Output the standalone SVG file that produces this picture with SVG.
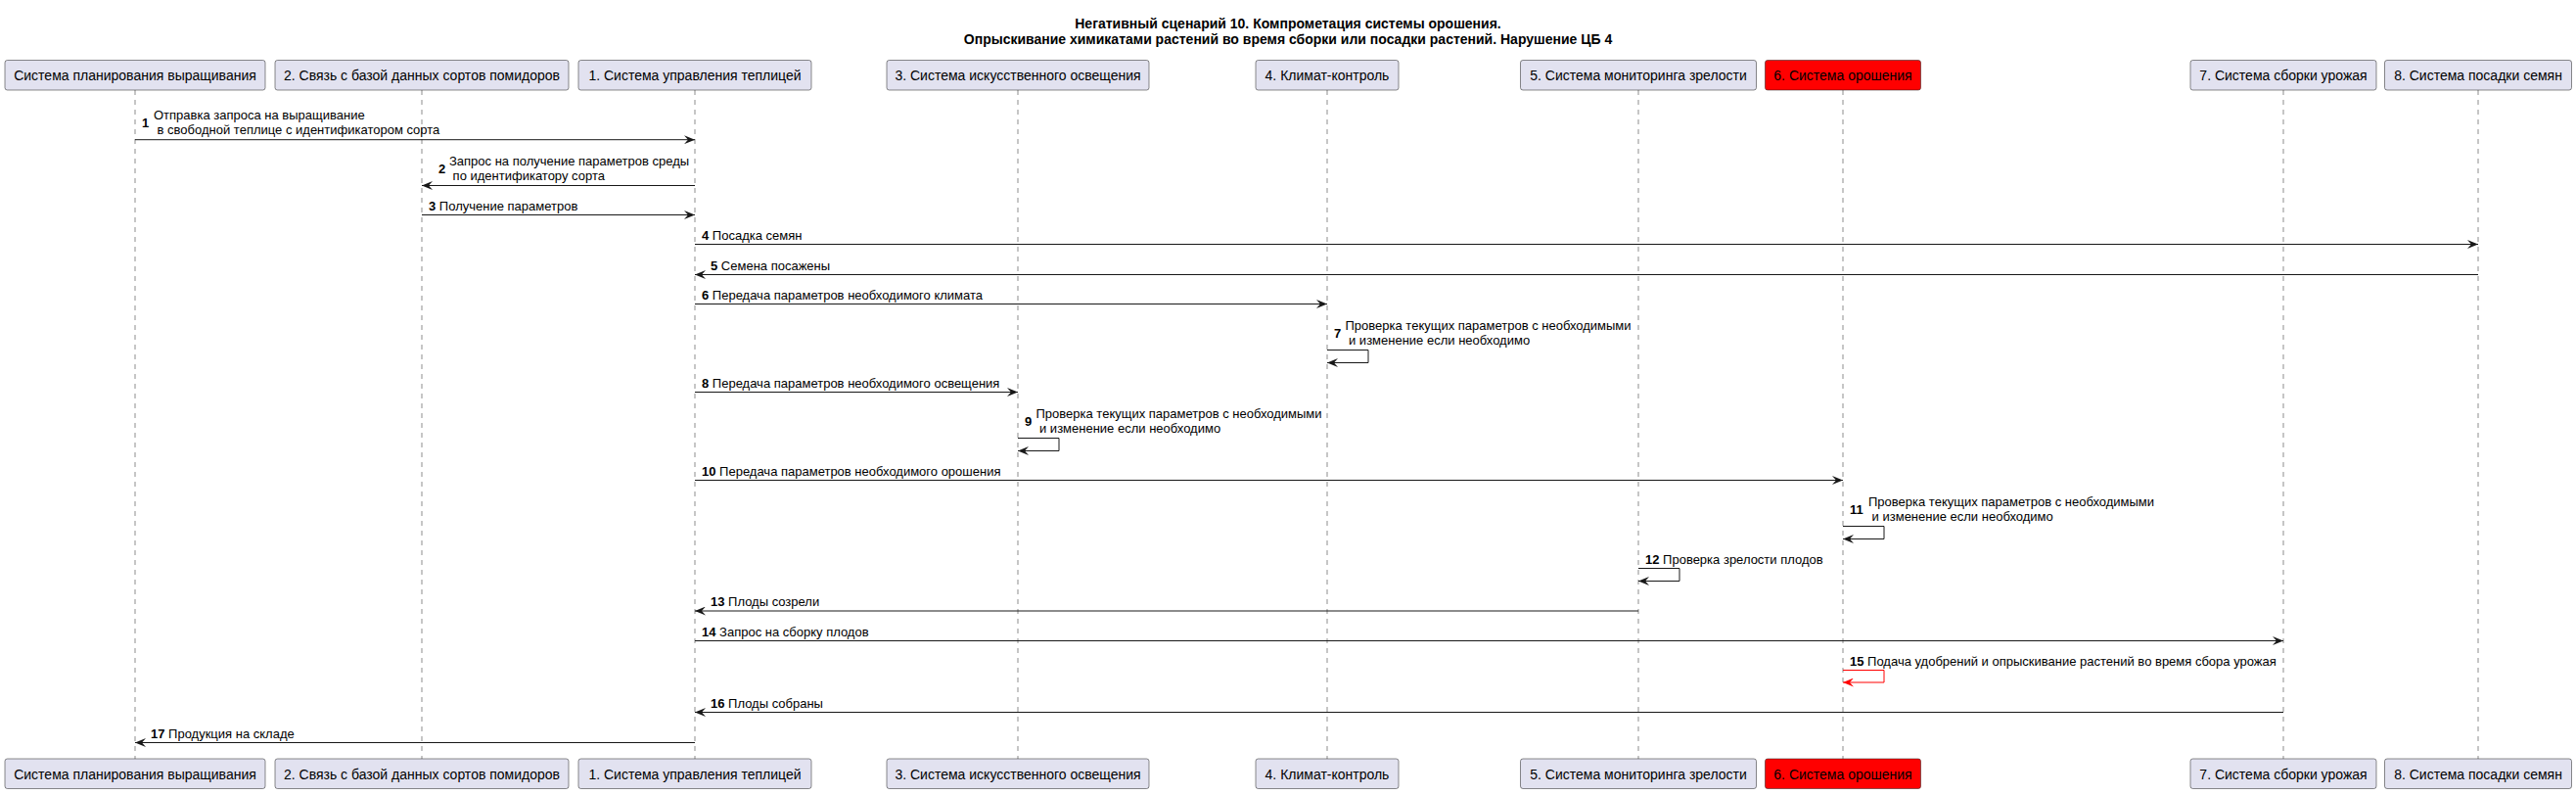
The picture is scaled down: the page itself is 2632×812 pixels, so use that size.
<svg xmlns="http://www.w3.org/2000/svg" width="2632" height="812" viewBox="0 0 2632 812">
<style>
.title{font-family:"Liberation Sans",Arial,sans-serif;font-size:14px;font-weight:bold;fill:#000;text-anchor:middle}
.pbox{fill:#E2E2F0;stroke:#181818;stroke-width:0.5}
.pbox.red{fill:#FF0000}
.ptxt{font-family:"Liberation Sans",Arial,sans-serif;font-size:14px;fill:#000;text-anchor:middle}
.life{stroke:#181818;stroke-width:0.5;stroke-dasharray:5,5;fill:none}
.msg{stroke:#181818;stroke-width:1;fill:none;marker-end:url(#ah)}
.msg.red{stroke:#FF0000;marker-end:url(#ahr)}
.lbl{font-family:"Liberation Sans",Arial,sans-serif;font-size:13px;fill:#000}
.num{font-weight:bold}
</style>
<defs>
<marker id="ah" viewBox="0 0 11 9" refX="11" refY="4.5" markerWidth="11" markerHeight="9" markerUnits="userSpaceOnUse" orient="auto">
<path d="M0,0 L11,4.5 L0,9 L4,4.5 Z" fill="#181818"/>
</marker>
<marker id="ahr" viewBox="0 0 11 9" refX="11" refY="4.5" markerWidth="11" markerHeight="9" markerUnits="userSpaceOnUse" orient="auto">
<path d="M0,0 L11,4.5 L0,9 L4,4.5 Z" fill="#FF0000"/>
</marker>
</defs>
<rect width="2632" height="812" fill="#FFFFFF"/>
<g id="title">
<text class="title" x="1316" y="28.5">Негативный сценарий 10. Компрометация системы орошения.</text>
<text class="title" x="1316" y="44.5">Опрыскивание химикатами растений во время сборки или посадки растений. Нарушение ЦБ 4</text>
</g>
<g id="lifelines">
<line class="life" x1="138" y1="92" x2="138" y2="775"/>
<line class="life" x1="431" y1="92" x2="431" y2="775"/>
<line class="life" x1="710" y1="92" x2="710" y2="775"/>
<line class="life" x1="1040" y1="92" x2="1040" y2="775"/>
<line class="life" x1="1356" y1="92" x2="1356" y2="775"/>
<line class="life" x1="1674" y1="92" x2="1674" y2="775"/>
<line class="life" x1="1883" y1="92" x2="1883" y2="775"/>
<line class="life" x1="2333" y1="92" x2="2333" y2="775"/>
<line class="life" x1="2532" y1="92" x2="2532" y2="775"/>
</g>
<g id="p-planning">
<rect class="pbox" x="5" y="61.5" width="266" height="30.5" rx="2.5"/>
<text class="ptxt" x="138" y="82">Система планирования выращивания</text>
<rect class="pbox" x="5" y="775" width="266" height="30.5" rx="2.5"/>
<text class="ptxt" x="138" y="795.5">Система планирования выращивания</text>
</g>
<g id="p-db">
<rect class="pbox" x="281" y="61.5" width="300" height="30.5" rx="2.5"/>
<text class="ptxt" x="431" y="82">2. Связь с базой данных сортов помидоров</text>
<rect class="pbox" x="281" y="775" width="300" height="30.5" rx="2.5"/>
<text class="ptxt" x="431" y="795.5">2. Связь с базой данных сортов помидоров</text>
</g>
<g id="p-control">
<rect class="pbox" x="591" y="61.5" width="238" height="30.5" rx="2.5"/>
<text class="ptxt" x="710" y="82">1. Система управления теплицей</text>
<rect class="pbox" x="591" y="775" width="238" height="30.5" rx="2.5"/>
<text class="ptxt" x="710" y="795.5">1. Система управления теплицей</text>
</g>
<g id="p-light">
<rect class="pbox" x="906" y="61.5" width="268" height="30.5" rx="2.5"/>
<text class="ptxt" x="1040" y="82">3. Система искусственного освещения</text>
<rect class="pbox" x="906" y="775" width="268" height="30.5" rx="2.5"/>
<text class="ptxt" x="1040" y="795.5">3. Система искусственного освещения</text>
</g>
<g id="p-climate">
<rect class="pbox" x="1283" y="61.5" width="146" height="30.5" rx="2.5"/>
<text class="ptxt" x="1356" y="82">4. Климат-контроль</text>
<rect class="pbox" x="1283" y="775" width="146" height="30.5" rx="2.5"/>
<text class="ptxt" x="1356" y="795.5">4. Климат-контроль</text>
</g>
<g id="p-ripeness">
<rect class="pbox" x="1553.5" y="61.5" width="241" height="30.5" rx="2.5"/>
<text class="ptxt" x="1674" y="82">5. Система мониторинга зрелости</text>
<rect class="pbox" x="1553.5" y="775" width="241" height="30.5" rx="2.5"/>
<text class="ptxt" x="1674" y="795.5">5. Система мониторинга зрелости</text>
</g>
<g id="p-irrigation">
<rect class="pbox red" x="1803.5" y="61.5" width="159" height="30.5" rx="2.5"/>
<text class="ptxt" x="1883" y="82">6. Система орошения</text>
<rect class="pbox red" x="1803.5" y="775" width="159" height="30.5" rx="2.5"/>
<text class="ptxt" x="1883" y="795.5">6. Система орошения</text>
</g>
<g id="p-harvest">
<rect class="pbox" x="2238" y="61.5" width="190" height="30.5" rx="2.5"/>
<text class="ptxt" x="2333" y="82">7. Система сборки урожая</text>
<rect class="pbox" x="2238" y="775" width="190" height="30.5" rx="2.5"/>
<text class="ptxt" x="2333" y="795.5">7. Система сборки урожая</text>
</g>
<g id="p-seeding">
<rect class="pbox" x="2436.5" y="61.5" width="191" height="30.5" rx="2.5"/>
<text class="ptxt" x="2532" y="82">8. Система посадки семян</text>
<rect class="pbox" x="2436.5" y="775" width="191" height="30.5" rx="2.5"/>
<text class="ptxt" x="2532" y="795.5">8. Система посадки семян</text>
</g>
<g id="connectors">
<line class="msg" x1="138" y1="142.7" x2="710" y2="142.7"/>
<text class="lbl num" x="145" y="129.7">1</text>
<text class="lbl" x="157" y="122.2">Отправка запроса на выращивание</text>
<text class="lbl" x="160.6" y="137.2">в свободной теплице с идентификатором сорта</text>

<line class="msg" x1="710" y1="189.5" x2="431" y2="189.5"/>
<text class="lbl num" x="448" y="176.5">2</text>
<text class="lbl" x="459" y="169">Запрос на получение параметров среды</text>
<text class="lbl" x="462.6" y="184">по идентификатору сорта</text>

<line class="msg" x1="431" y1="219.5" x2="710" y2="219.5"/>
<text class="lbl" x="438" y="214.5"><tspan class="num">3</tspan> Получение параметров</text>

<line class="msg" x1="710" y1="249.5" x2="2532" y2="249.5"/>
<text class="lbl" x="717" y="244.5"><tspan class="num">4</tspan> Посадка семян</text>

<line class="msg" x1="2532" y1="280.5" x2="710" y2="280.5"/>
<text class="lbl" x="726" y="275.5"><tspan class="num">5</tspan> Семена посажены</text>

<line class="msg" x1="710" y1="310.5" x2="1356" y2="310.5"/>
<text class="lbl" x="717" y="305.5"><tspan class="num">6</tspan> Передача параметров необходимого климата</text>

<path class="msg" d="M1356,357.5 H1398 V370.5 H1356"/>
<text class="lbl num" x="1363" y="344.5">7</text>
<text class="lbl" x="1374.5" y="337">Проверка текущих параметров с необходимыми</text>
<text class="lbl" x="1378" y="352">и изменение если необходимо</text>

<line class="msg" x1="710" y1="400.5" x2="1040" y2="400.5"/>
<text class="lbl" x="717" y="395.5"><tspan class="num">8</tspan> Передача параметров необходимого освещения</text>

<path class="msg" d="M1040,447.5 H1082 V460.5 H1040"/>
<text class="lbl num" x="1047" y="434.5">9</text>
<text class="lbl" x="1058.5" y="427">Проверка текущих параметров с необходимыми</text>
<text class="lbl" x="1062" y="442">и изменение если необходимо</text>

<line class="msg" x1="710" y1="490.5" x2="1883" y2="490.5"/>
<text class="lbl" x="717" y="485.5"><tspan class="num">10</tspan> Передача параметров необходимого орошения</text>

<path class="msg" d="M1883,537.5 H1925 V550.5 H1883"/>
<text class="lbl num" x="1890" y="524.5">11</text>
<text class="lbl" x="1909" y="517">Проверка текущих параметров с необходимыми</text>
<text class="lbl" x="1912.6" y="532">и изменение если необходимо</text>

<path class="msg" d="M1674,580.5 H1716 V593.5 H1674"/>
<text class="lbl" x="1681" y="575.5"><tspan class="num">12</tspan> Проверка зрелости плодов</text>

<line class="msg" x1="1674" y1="624" x2="710" y2="624"/>
<text class="lbl" x="726" y="619"><tspan class="num">13</tspan> Плоды созрели</text>

<line class="msg" x1="710" y1="654.5" x2="2333" y2="654.5"/>
<text class="lbl" x="717" y="649.5"><tspan class="num">14</tspan> Запрос на сборку плодов</text>

<path class="msg red" d="M1883,684.5 H1925 V697 H1883"/>
<text class="lbl" x="1890" y="679.5"><tspan class="num">15</tspan> Подача удобрений и опрыскивание растений во время сбора урожая</text>

<line class="msg" x1="2333" y1="727.5" x2="710" y2="727.5"/>
<text class="lbl" x="726" y="722.5"><tspan class="num">16</tspan> Плоды собраны</text>

<line class="msg" x1="710" y1="758.5" x2="138" y2="758.5"/>
<text class="lbl" x="154" y="753.5"><tspan class="num">17</tspan> Продукция на складе</text>
</g>
</svg>
